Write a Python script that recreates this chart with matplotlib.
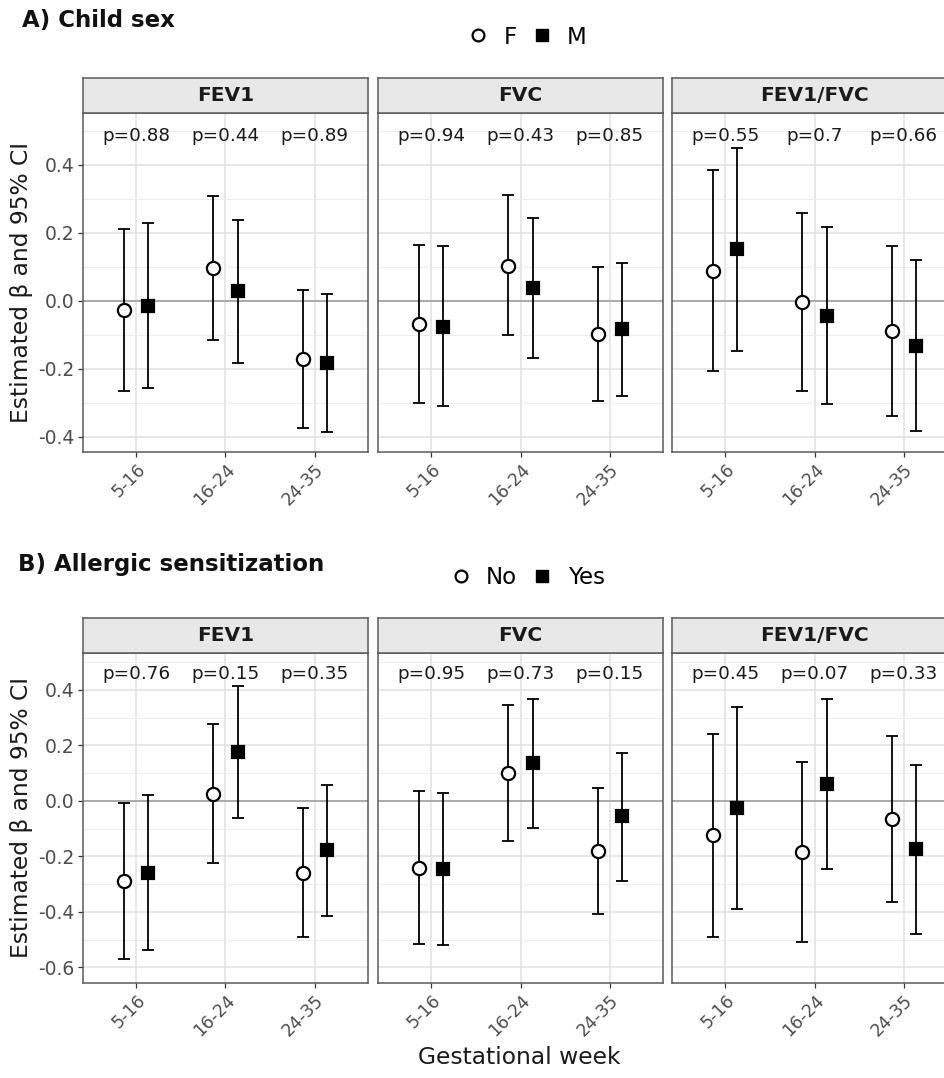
import matplotlib
matplotlib.use("Agg")
import matplotlib.pyplot as plt
from matplotlib.lines import Line2D
import numpy as np

categories = ["5-16", "16-24", "24-35"]
outcomes = ["FEV1", "FVC", "FEV1/FVC"]

# Panel A: Child sex  (rows = outcome, columns = gestational window)
A_F_est = [[-0.027, 0.097, -0.172], [-0.068, 0.104, -0.098], [0.089, -0.004, -0.089]]
A_F_lo = [[-0.266, -0.116, -0.374], [-0.301, -0.102, -0.295], [-0.207, -0.266, -0.339]]
A_F_hi = [[0.212, 0.308, 0.031], [0.165, 0.311, 0.099], [0.384, 0.260, 0.162]]
A_M_est = [[-0.015, 0.029, -0.184], [-0.077, 0.037, -0.084], [0.152, -0.045, -0.132]]
A_M_lo = [[-0.257, -0.182, -0.385], [-0.311, -0.168, -0.281], [-0.149, -0.305, -0.382]]
A_M_hi = [[0.229, 0.239, 0.021], [0.162, 0.243, 0.112], [0.451, 0.217, 0.120]]
A_p = [["p=0.88", "p=0.44", "p=0.89"], ["p=0.94", "p=0.43", "p=0.85"], ["p=0.55", "p=0.7", "p=0.66"]]

# Panel B: Allergic sensitization
B_No_est = [[-0.289, 0.024, -0.258], [-0.240, 0.100, -0.179], [-0.124, -0.183, -0.064]]
B_No_lo = [[-0.571, -0.225, -0.490], [-0.517, -0.145, -0.406], [-0.490, -0.507, -0.363]]
B_No_hi = [[-0.007, 0.276, -0.025], [0.036, 0.346, 0.048], [0.241, 0.142, 0.235]]
B_Yes_est = [[-0.258, 0.177, -0.177], [-0.246, 0.135, -0.056], [-0.025, 0.060, -0.174]]
B_Yes_lo = [[-0.538, -0.061, -0.413], [-0.520, -0.098, -0.287], [-0.389, -0.247, -0.478]]
B_Yes_hi = [[0.022, 0.414, 0.058], [0.029, 0.368, 0.174], [0.338, 0.369, 0.130]]
B_p = [["p=0.76", "p=0.15", "p=0.35"], ["p=0.95", "p=0.73", "p=0.15"], ["p=0.45", "p=0.07", "p=0.33"]]

W, H = 945, 1078
fig = plt.figure(figsize=(W / 100, H / 100), dpi=100)

panel_x = [83, 378, 672]
panel_w = 285
strip_h = 35

def fx(px):
    return px / W

def fy(py):
    return 1 - py / H

def draw_section(panel_top, panel_bottom, ylim, major, minor, ptext_y,
                 s1, s2, pvals, show_xlabel, legend_labels, legend_y, title, title_x, title_y):
    axes = []
    for k in range(3):
        x0 = panel_x[k]
        ax = fig.add_axes([fx(x0), fy(panel_bottom), panel_w / W, (panel_bottom - panel_top) / H])
        ax.set_xlim(0.4, 3.6)
        ax.set_ylim(*ylim)
        ax.set_yticks(major)
        ax.set_yticks(minor, minor=True)
        ax.set_xticks([1, 2, 3])
        ax.set_xticklabels(categories, rotation=45, ha="right", rotation_mode="anchor",
                           fontsize=12.5, color="#4d4d4d")
        ax.grid(True, which="major", color="#e0e0e0", lw=1.1, zorder=0)
        ax.grid(True, which="minor", axis="y", color="#ededed", lw=0.8, zorder=0)
        ax.set_axisbelow(True)
        ax.axhline(0, color="#9a9a9a", lw=1.1, zorder=1)
        ax.tick_params(axis="both", which="major", length=3.5, width=0.9, color="#333333",
                       labelcolor="#4d4d4d", pad=2.5)
        ax.tick_params(axis="y", which="major", labelsize=13.5)
        ax.tick_params(axis="x", which="major", labelsize=12.5)
        ax.tick_params(axis="y", which="minor", length=0)
        if k == 0:
            ax.set_yticklabels([f"{v:.1f}" for v in major])
            ax.set_ylabel("Estimated \u03b2 and 95% CI", fontsize=16.8, color="#1a1a1a", labelpad=4)
        else:
            ax.set_yticklabels([])
            ax.tick_params(axis="y", which="major", length=0)
        for sp in ax.spines.values():
            sp.set_color("#5a5a5a")
            sp.set_linewidth(1.1)
        xs = np.arange(1, 4)
        for (est, lo, hi, off, mk, fc, ms) in [
            (s1[0][k], s1[1][k], s1[2][k], -0.135, "o", "white", 9.5),
            (s2[0][k], s2[1][k], s2[2][k], 0.135, "s", "black", 8.0),
        ]:
            est = np.array(est); lo = np.array(lo); hi = np.array(hi)
            ax.errorbar(xs + off, est, yerr=[est - lo, hi - est], fmt="none",
                        ecolor="black", elinewidth=1.3, capsize=4.3, capthick=1.3, zorder=3)
            ax.plot(xs + off, est, linestyle="none", marker=mk, markerfacecolor=fc,
                    markeredgecolor="black", markeredgewidth=1.6, markersize=ms, zorder=4)
        for j in range(3):
            ax.text(j + 1, ptext_y, pvals[k][j], ha="center", va="center", fontsize=13.2,
                    color="#1a1a1a", zorder=5)
        # strip
        sax = fig.add_axes([fx(x0), fy(panel_top), panel_w / W, strip_h / H])
        sax.set_facecolor("#e8e8e8")
        sax.set_xticks([]); sax.set_yticks([])
        for sp in sax.spines.values():
            sp.set_color("#5a5a5a")
            sp.set_linewidth(1.1)
        sax.text(0.5, 0.5, outcomes[k], ha="center", va="center", fontsize=14.5,
                 fontweight="bold", color="#1a1a1a", transform=sax.transAxes)
        axes.append(ax)
    fig.text(fx(title_x), fy(title_y), title, ha="left", va="center", fontsize=16.5,
             fontweight="bold", color="#111111")
    handles = [
        Line2D([], [], linestyle="none", marker="o", markerfacecolor="white",
               markeredgecolor="black", markeredgewidth=1.6, markersize=8.5, label=legend_labels[0]),
        Line2D([], [], linestyle="none", marker="s", markerfacecolor="black",
               markeredgecolor="black", markersize=8.0, label=legend_labels[1]),
    ]
    fig.legend(handles=handles, loc="center", bbox_to_anchor=(fx(527), fy(legend_y)),
               ncol=2, frameon=False, fontsize=16.5, handlelength=1.0, handletextpad=0.6,
               columnspacing=0.6)
    if show_xlabel:
        fig.text(fx(519), fy(1058), "Gestational week", ha="center", va="center",
                 fontsize=16.8, color="#1a1a1a")
    return axes

draw_section(113, 452, (-0.445, 0.553), [-0.4, -0.2, 0.0, 0.2, 0.4],
             [-0.3, -0.1, 0.1, 0.3, 0.5], 0.485,
             (A_F_est, A_F_lo, A_F_hi), (A_M_est, A_M_lo, A_M_hi), A_p,
             False, ["F", "M"], 37, "A) Child sex", 22, 21)

draw_section(653, 983, (-0.656, 0.533), [-0.6, -0.4, -0.2, 0.0, 0.2, 0.4],
             [-0.5, -0.3, -0.1, 0.1, 0.3, 0.5], 0.458,
             (B_No_est, B_No_lo, B_No_hi), (B_Yes_est, B_Yes_lo, B_Yes_hi), B_p,
             True, ["No", "Yes"], 578, "B) Allergic sensitization", 18, 564)

fig.savefig("out.png", dpi=100, facecolor="white")
